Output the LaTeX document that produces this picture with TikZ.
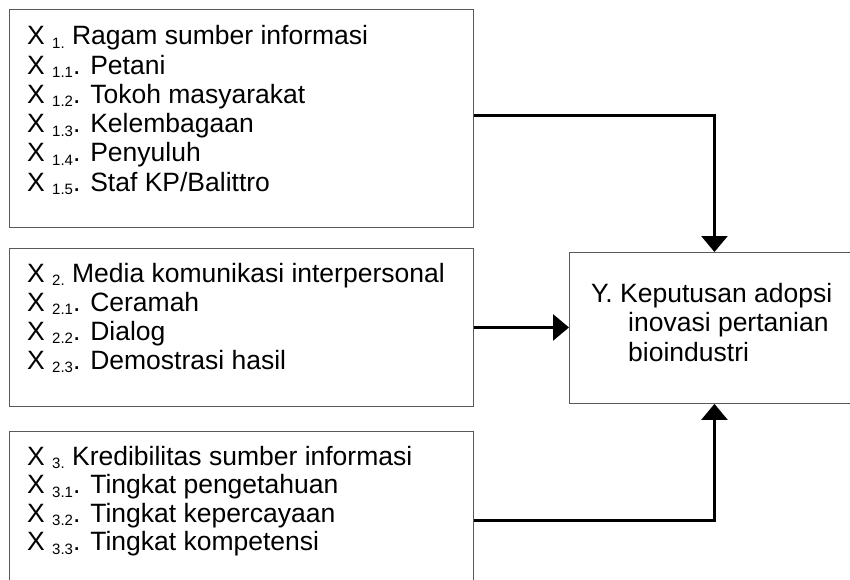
\documentclass[tikz,border=0pt]{standalone}
\usepackage{fontspec}
\setmainfont{Liberation Sans}
\usetikzlibrary{arrows.meta}
\newcommand{\indeks}[1]{\raisebox{-3.5pt}{\fontsize{15}{15}\selectfont #1}}

\begin{document}
\begin{tikzpicture}[x=1pt,y=-1pt,
  kotak/.style={draw=black!65, line width=0.9pt, anchor=north west, inner sep=0pt},
  baris/.style={anchor=base west, inner sep=0pt, font=\fontsize{26.5}{30}\selectfont},
  panah/.style={line width=2.8pt, -{Triangle[width=26pt,length=16pt]}}]
\useasboundingbox (0,0) rectangle (850,580);
\clip (0,0) rectangle (850,580);
% kotak variabel X
\node[kotak, minimum width=464pt, minimum height=218pt] (x1) at (9,9) {};
\node[kotak, minimum width=464pt, minimum height=158pt] (x2) at (9,248) {};
\node[kotak, minimum width=464pt, minimum height=178pt] (x3) at (9,431) {};
% kotak Y
\node[kotak, minimum width=290pt, minimum height=151pt] (y) at (569,252) {};
% isi kotak
\foreach \i/\teks in {0/{X \indeks{1.} Ragam sumber informasi}, 1/{X \indeks{1.1}. Petani},
    2/{X \indeks{1.2}. Tokoh masyarakat}, 3/{X \indeks{1.3}. Kelembagaan},
    4/{X \indeks{1.4}. Penyuluh}, 5/{X \indeks{1.5}. Staf KP/Balittro}}
  \node[baris] (x1-\i) at (27,45+29.2*\i) {\teks};
\foreach \i/\teks in {0/{X \indeks{2.} Media komunikasi interpersonal}, 1/{X \indeks{2.1}. Ceramah},
    2/{X \indeks{2.2}. Dialog}, 3/{X \indeks{2.3}. Demostrasi hasil}}
  \node[baris] (x2-\i) at (27,282+29*\i) {\teks};
\foreach \i/\teks in {0/{X \indeks{3.} Kredibilitas sumber informasi}, 1/{X \indeks{3.1}. Tingkat pengetahuan},
    2/{X \indeks{3.2}. Tingkat kepercayaan}, 3/{X \indeks{3.3}. Tingkat kompetensi}}
  \node[baris] (x3-\i) at (27,465+28.5*\i) {\teks};
\node[baris] (y-0) at (591,302) {Y. Keputusan adopsi};
\node[baris] (y-1) at (628,331.5) {inovasi pertanian};
\node[baris] (y-2) at (628,361) {bioindustri};
% panah
\draw[panah] ([yshift=3pt]x1.east) -| (y.north);
\draw[panah] (x2.east) -- (x2.east -| y.west);
\draw[panah] (x3.east) -| (y.south);
\end{tikzpicture}
\end{document}
